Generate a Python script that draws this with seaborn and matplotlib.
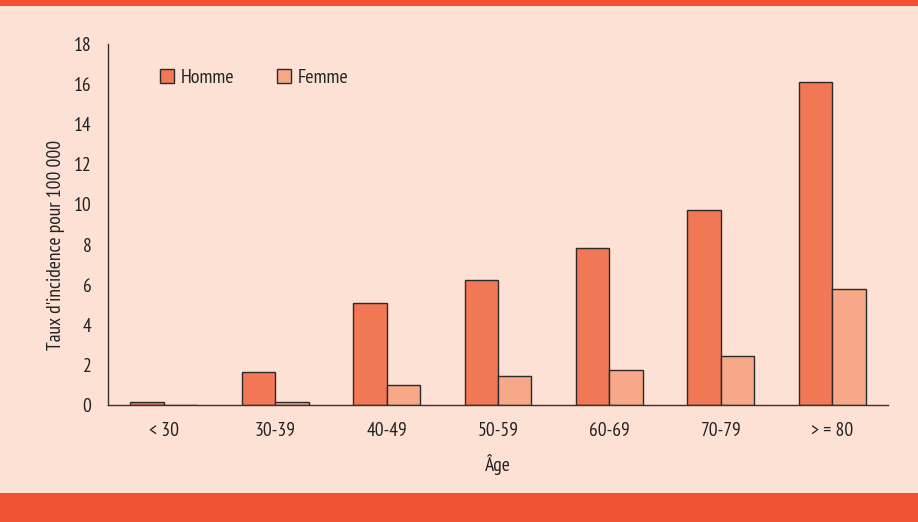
import matplotlib
matplotlib.use("Agg")
import matplotlib.pyplot as plt
from matplotlib.patches import Rectangle, Patch
import seaborn as sns
import pandas as pd

categories = ["< 30", "30-39", "40-49", "50-59", "60-69", "70-79", "> = 80"]
homme = [0.15, 1.65, 5.08, 6.23, 7.84, 9.7, 16.1]
femme = [0.0, 0.15, 1.0, 1.45, 1.73, 2.46, 5.8]
series = ["Homme", "Femme"]
yticks = [0, 2, 4, 6, 8, 10, 12, 14, 16, 18]

BG = "#FDE1D5"
BAND = "#F05133"
C_H = "#F27755"
C_F = "#F6A889"
EDGE = "#2B2B2B"
TXT = "#222222"
FS = 14

sns.set_style("white")
plt.rcParams["font.family"] = ["PT Sans Narrow", "DejaVu Sans"]

df = pd.DataFrame({
    "Âge": categories * 2,
    "val": homme + femme,
    "sexe": [series[0]] * len(categories) + [series[1]] * len(categories),
})

fig = plt.figure(figsize=(9.18, 5.22), dpi=100, facecolor=BG)
ax = fig.add_axes([108 / 918, 1 - 405 / 522, 780 / 918, 361 / 522])
ax.set_facecolor(BG)

sns.barplot(data=df, x="Âge", y="val", hue="sexe", order=categories,
            hue_order=series, palette=[C_H, C_F], saturation=1, width=0.6, gap=0,
            edgecolor=EDGE, linewidth=1.0, ax=ax, legend=False)

ax.set_xlim(-0.5, len(categories) - 0.5)
ax.set_ylim(0, 18)
ax.set_yticks(yticks)
ax.set_yticklabels([str(v) for v in yticks], fontsize=FS, color=TXT)
ax.set_xticks([i - 0.5 for i in range(len(categories) + 1)])
ax.set_xticklabels([])
ax.set_xticks(list(range(len(categories))), minor=True)
ax.set_xticklabels(categories, minor=True, fontsize=FS, color=TXT)
ax.tick_params(axis="x", which="major", direction="out", length=6, width=1, color="#333333")
ax.tick_params(axis="x", which="minor", length=0, pad=12)
ax.tick_params(axis="y", direction="out", length=5, width=1, color="#333333", pad=7)

for s in ["top", "right"]:
    ax.spines[s].set_visible(False)
for s in ["left", "bottom"]:
    ax.spines[s].set_color("#333333")
    ax.spines[s].set_linewidth(1.0)

ax.set_xlabel("Âge", fontsize=FS, color=TXT, labelpad=10)
ax.set_ylabel("Taux d'incidence pour 100 000", fontsize=FS, color=TXT)
ax.yaxis.set_label_coords((65 - 108) / 780, (405 - 245) / 361)

handles = [Patch(facecolor=C_H, edgecolor=EDGE, linewidth=1.0, label=series[0]),
           Patch(facecolor=C_F, edgecolor=EDGE, linewidth=1.0, label=series[1])]
fig.legend(handles=handles, loc="center left", bbox_to_anchor=(160 / 918, 1 - 78 / 522),
           ncol=2, frameon=False, fontsize=14.5, handlelength=0.7, handleheight=0.7,
           handletextpad=0.35, columnspacing=2.1, borderpad=0, borderaxespad=0)

fig.patches.append(Rectangle((0, 1 - 6 / 522), 1, 6 / 522, transform=fig.transFigure,
                             facecolor=BAND, edgecolor="none", zorder=0))
fig.patches.append(Rectangle((0, 0), 1, 29 / 522, transform=fig.transFigure,
                             facecolor=BAND, edgecolor="none", zorder=0))

fig.savefig("out.png", dpi=100, facecolor=BG)
